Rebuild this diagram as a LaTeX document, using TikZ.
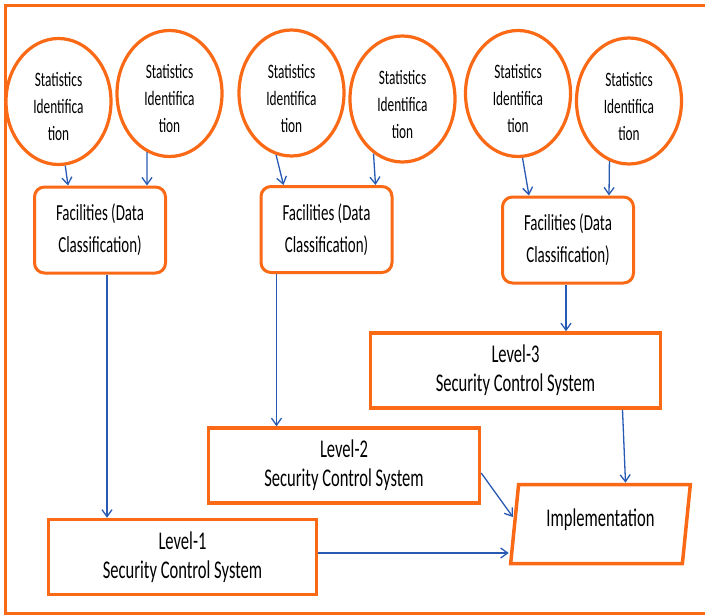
\documentclass[tikz,border=0pt]{standalone}
\usepackage{fontspec}
\setmainfont{Carlito}[FakeStretch=0.65]
\usetikzlibrary{arrows.meta,shapes.geometric}
\definecolor{secorange}{RGB}{250,106,22}
\definecolor{secblue}{RGB}{40,90,180}
\newcommand{\stattext}{\rule{0pt}{25pt}Statistics\\Identifica\\tion}

\begin{document}
\begin{tikzpicture}[x=1pt, y=-1pt,
  stat/.style={ellipse, draw=secorange, line width=3.2pt, fill=white,
    minimum width=105pt, minimum height=126pt, inner sep=0pt,
    align=center, font=\fontsize{20.5}{27}\selectfont},
  facbox/.style={rectangle, rounded corners=10pt, draw=secorange, line width=3pt,
    minimum width=131pt, minimum height=86pt, align=center,
    font=\fontsize{23}{32}\selectfont},
  lvlbox/.style={rectangle, draw=secorange, line width=3.5pt,
    minimum width=#1, minimum height=75pt, align=center,
    font=\fontsize{25.5}{29}\selectfont},
  implbox/.style={trapezium, trapezium left angle=80, trapezium right angle=100,
    trapezium stretches=true, draw=secorange, line width=3.5pt,
    minimum width=180pt, minimum height=79pt, inner sep=0pt,
    font=\fontsize{25.5}{29}\selectfont},
  arr/.style={-{Straight Barb[length=7pt,width=10pt]}, draw=secblue, line width=1.3pt}
]
\useasboundingbox (0,0) rectangle (705,616);
% Outer frame (open on the right)
\draw[secorange, line width=3pt] (705,5.5) -- (5.5,5.5) -- (5.5,613) -- (705,613);
% Statistics identification circles
\node[stat] (st1) at (58.5,101.5) {\stattext};
\node[stat] (st2) at (169.5,93.5) {\stattext};
\node[stat] (st3) at (291.5,93) {\stattext};
\node[stat] (st4) at (402.5,99) {\stattext};
\node[stat] (st5) at (518,93.5) {\stattext};
\node[stat] (st6) at (629,101) {\stattext};
% Facilities
\node[facbox] (fac1) at (100,230) {Facilities (Data\\Classification)};
\node[facbox] (fac2) at (326.5,229.5) {Facilities (Data\\Classification)};
\node[facbox] (fac3) at (568,240) {Facilities (Data\\Classification)};
% Security control levels
\node[lvlbox=290pt] (lev3) at (515.5,370.5) {Level-3\\Security Control System};
\node[lvlbox=271pt] (lev2) at (344,465.5) {Level-2\\Security Control System};
\node[lvlbox=268pt] (lev1) at (182.5,557) {Level-1\\Security Control System};
% Implementation
\node[implbox] (impl) at (600.5,524) {\raisebox{12pt}{Implementation}};
% Circles to facilities
\draw[arr] (st1.-84) -- ([xshift=-32pt]fac1.north);
\draw[arr] (st2.-111) -- ([xshift=47pt]fac1.north);
\draw[arr] (st3.-104) -- ([xshift=-43pt]fac2.north);
\draw[arr] (st4.-118) -- ([xshift=49pt]fac2.north);
\draw[arr] (st5.-86) -- ([xshift=-39pt]fac3.north);
\draw[arr] (st6.-108) -- ([xshift=41pt]fac3.north);
% Facilities to levels
\draw[arr] ([xshift=7pt]fac1.south) -- ([xshift=7pt]fac1.south |- lev1.north);
\draw[arr] ([xshift=-50pt]fac2.south) -- ([xshift=-50pt]fac2.south |- lev2.north);
\draw[arr] ([xshift=-2pt]fac3.south) -- ([xshift=-2pt]fac3.south |- lev3.north);
% Levels to implementation
\draw[arr] ([xshift=107pt]lev3.south) -- ([xshift=25pt]impl.north);
\draw[arr] ([yshift=-7.5pt]lev2.east) -- ([yshift=7pt]impl.west);
\draw[arr] ([yshift=4pt]lev1.east) -- ([yshift=4pt]lev1.east -| impl.bottom left corner);
\end{tikzpicture}
\end{document}
